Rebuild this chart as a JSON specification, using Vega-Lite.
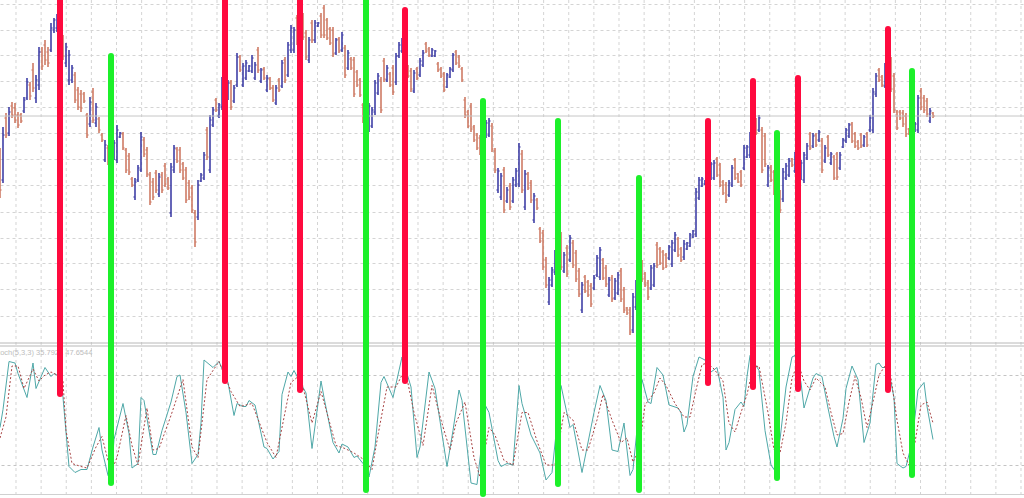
{
"$schema": "https://vega.github.io/schema/vega-lite/v6.json",
"width": 1024, "height": 498, "padding": 0, "autosize": {"type": "none"},
"background": "white",
"config": {"view": {"stroke": null}},
"datasets": {
"bars": [
{"t":0,"o":195,"h":202,"l":152,"c":160},{"t":1,"o":170,"h":223,"l":167,"c":215},{"t":2,"o":232,"h":237,"l":212,"c":215},{"t":3,"o":217,"h":243,"l":214,"c":238},{"t":4,"o":244,"h":248,"l":232,"c":235},{"t":5,"o":242,"h":247,"l":227,"c":230},{"t":6,"o":235,"h":238,"l":222,"c":225},{"t":7,"o":235,"h":237,"l":227,"c":229},{"t":8,"o":239,"h":253,"l":237,"c":250},{"t":9,"o":252,"h":272,"l":250,"c":268},
{"t":10,"o":265,"h":268,"l":250,"c":254},{"t":11,"o":280,"h":287,"l":258,"c":262},{"t":12,"o":252,"h":275,"l":247,"c":270},{"t":13,"o":265,"h":303,"l":260,"c":298},{"t":14,"o":298,"h":303,"l":280,"c":284},{"t":15,"o":305,"h":310,"l":285,"c":290},{"t":16,"o":298,"h":303,"l":283,"c":287},{"t":17,"o":300,"h":327,"l":298,"c":322},{"t":18,"o":320,"h":332,"l":317,"c":330},{"t":19,"o":322,"h":336,"l":318,"c":333},
{"t":20,"o":328,"h":330,"l":305,"c":308},{"t":21,"o":310,"h":315,"l":290,"c":294},{"t":22,"o":287,"h":307,"l":283,"c":303},{"t":23,"o":270,"h":300,"l":265,"c":295},{"t":24,"o":270,"h":285,"l":267,"c":282},{"t":25,"o":275,"h":278,"l":247,"c":250},{"t":26,"o":260,"h":263,"l":240,"c":243},{"t":27,"o":256,"h":260,"l":238,"c":242},{"t":28,"o":256,"h":258,"l":247,"c":249},{"t":29,"o":235,"h":237,"l":212,"c":215},
{"t":30,"o":226,"h":253,"l":223,"c":248},{"t":31,"o":258,"h":262,"l":227,"c":230},{"t":32,"o":227,"h":247,"l":223,"c":243},{"t":33,"o":231,"h":233,"l":217,"c":220},{"t":34,"o":215,"h":217,"l":208,"c":210},{"t":35,"o":190,"h":210,"l":188,"c":205},{"t":36,"o":202,"h":205,"l":185,"c":188},{"t":37,"o":198,"h":202,"l":182,"c":185},{"t":38,"o":192,"h":210,"l":190,"c":207},{"t":39,"o":190,"h":225,"l":187,"c":220},
{"t":40,"o":213,"h":218,"l":212,"c":217},{"t":41,"o":216,"h":218,"l":200,"c":202},{"t":42,"o":200,"h":202,"l":177,"c":180},{"t":43,"o":194,"h":197,"l":175,"c":178},{"t":44,"o":171,"h":173,"l":163,"c":165},{"t":45,"o":153,"h":172,"l":150,"c":168},{"t":46,"o":170,"h":185,"l":168,"c":182},{"t":47,"o":180,"h":218,"l":178,"c":213},{"t":48,"o":210,"h":213,"l":193,"c":196},{"t":49,"o":200,"h":203,"l":173,"c":176},
{"t":50,"o":175,"h":178,"l":145,"c":148},{"t":51,"o":168,"h":172,"l":150,"c":153},{"t":52,"o":177,"h":180,"l":157,"c":160},{"t":53,"o":156,"h":177,"l":153,"c":173},{"t":54,"o":175,"h":178,"l":157,"c":160},{"t":55,"o":184,"h":187,"l":163,"c":166},{"t":56,"o":171,"h":173,"l":160,"c":162},{"t":57,"o":137,"h":187,"l":133,"c":183},{"t":58,"o":180,"h":205,"l":177,"c":202},{"t":59,"o":201,"h":203,"l":187,"c":189},
{"t":60,"o":200,"h":203,"l":177,"c":180},{"t":61,"o":186,"h":188,"l":170,"c":172},{"t":62,"o":180,"h":183,"l":147,"c":150},{"t":63,"o":167,"h":170,"l":150,"c":153},{"t":64,"o":162,"h":165,"l":137,"c":140},{"t":65,"o":137,"h":140,"l":103,"c":108},{"t":66,"o":133,"h":170,"l":130,"c":165},{"t":67,"o":169,"h":177,"l":168,"c":175},{"t":68,"o":172,"h":198,"l":170,"c":195},{"t":69,"o":220,"h":223,"l":190,"c":193},
{"t":70,"o":180,"h":235,"l":177,"c":230},{"t":71,"o":225,"h":243,"l":223,"c":240},{"t":72,"o":250,"h":252,"l":238,"c":240},{"t":73,"o":234,"h":247,"l":232,"c":245},{"t":74,"o":243,"h":273,"l":240,"c":270},{"t":75,"o":272,"h":275,"l":250,"c":253},{"t":76,"o":252,"h":270,"l":250,"c":267},{"t":77,"o":267,"h":270,"l":240,"c":243},{"t":78,"o":249,"h":265,"l":247,"c":262},{"t":79,"o":265,"h":297,"l":263,"c":293},
{"t":80,"o":293,"h":295,"l":278,"c":280},{"t":81,"o":265,"h":287,"l":263,"c":284},{"t":82,"o":272,"h":290,"l":270,"c":287},{"t":83,"o":279,"h":285,"l":278,"c":284},{"t":84,"o":279,"h":295,"l":277,"c":292},{"t":85,"o":272,"h":288,"l":270,"c":285},{"t":86,"o":300,"h":303,"l":277,"c":280},{"t":87,"o":269,"h":282,"l":267,"c":280},{"t":88,"o":281,"h":283,"l":270,"c":272},{"t":89,"o":260,"h":275,"l":258,"c":272},
{"t":90,"o":271,"h":273,"l":260,"c":262},{"t":91,"o":262,"h":265,"l":248,"c":250},{"t":92,"o":247,"h":265,"l":245,"c":262},{"t":93,"o":270,"h":272,"l":258,"c":260},{"t":94,"o":264,"h":290,"l":262,"c":287},{"t":95,"o":290,"h":293,"l":267,"c":270},{"t":96,"o":275,"h":308,"l":273,"c":305},{"t":97,"o":300,"h":325,"l":297,"c":322},{"t":98,"o":300,"h":323,"l":297,"c":320},{"t":99,"o":332,"h":335,"l":305,"c":308},
{"t":100,"o":312,"h":335,"l":310,"c":332},{"t":101,"o":334,"h":337,"l":310,"c":313},{"t":102,"o":317,"h":320,"l":290,"c":293},{"t":103,"o":290,"h":313,"l":287,"c":310},{"t":104,"o":327,"h":330,"l":307,"c":310},{"t":105,"o":310,"h":330,"l":307,"c":327},{"t":106,"o":324,"h":328,"l":323,"c":327},{"t":107,"o":334,"h":337,"l":312,"c":315},{"t":108,"o":342,"h":345,"l":312,"c":315},{"t":109,"o":330,"h":332,"l":310,"c":312},
{"t":110,"o":321,"h":323,"l":305,"c":307},{"t":111,"o":320,"h":323,"l":293,"c":296},{"t":112,"o":297,"h":312,"l":295,"c":310},{"t":113,"o":311,"h":313,"l":297,"c":299},{"t":114,"o":300,"h":318,"l":298,"c":315},{"t":115,"o":302,"h":305,"l":272,"c":275},{"t":116,"o":282,"h":300,"l":280,"c":297},{"t":117,"o":291,"h":293,"l":280,"c":282},{"t":118,"o":290,"h":293,"l":253,"c":256},{"t":119,"o":278,"h":280,"l":263,"c":265},
{"t":120,"o":270,"h":272,"l":253,"c":255},{"t":121,"o":245,"h":247,"l":227,"c":229},{"t":122,"o":238,"h":240,"l":220,"c":222},{"t":123,"o":220,"h":247,"l":218,"c":244},{"t":124,"o":224,"h":243,"l":222,"c":240},{"t":125,"o":238,"h":270,"l":235,"c":267},{"t":126,"o":257,"h":277,"l":255,"c":274},{"t":127,"o":270,"h":273,"l":237,"c":240},{"t":128,"o":289,"h":292,"l":268,"c":271},{"t":129,"o":270,"h":285,"l":268,"c":282},
{"t":130,"o":276,"h":278,"l":263,"c":265},{"t":131,"o":282,"h":285,"l":255,"c":258},{"t":132,"o":268,"h":297,"l":265,"c":294},{"t":133,"o":294,"h":308,"l":292,"c":305},{"t":134,"o":299,"h":312,"l":297,"c":309},{"t":135,"o":317,"h":320,"l":290,"c":293},{"t":136,"o":283,"h":285,"l":272,"c":274},{"t":137,"o":279,"h":282,"l":258,"c":261},{"t":138,"o":259,"h":280,"l":257,"c":277},{"t":139,"o":281,"h":283,"l":270,"c":272},
{"t":140,"o":275,"h":292,"l":273,"c":289},{"t":141,"o":285,"h":300,"l":283,"c":297},{"t":142,"o":306,"h":308,"l":297,"c":299},{"t":143,"o":301,"h":303,"l":293,"c":295},{"t":144,"o":294,"h":302,"l":293,"c":300},{"t":145,"o":294,"h":300,"l":293,"c":299},{"t":146,"o":286,"h":288,"l":278,"c":280},{"t":147,"o":281,"h":283,"l":272,"c":274},{"t":148,"o":276,"h":278,"l":258,"c":260},{"t":149,"o":263,"h":277,"l":262,"c":275},
{"t":150,"o":273,"h":283,"l":272,"c":281},{"t":151,"o":280,"h":297,"l":278,"c":295},{"t":152,"o":298,"h":300,"l":285,"c":287},{"t":153,"o":293,"h":295,"l":282,"c":284},{"t":154,"o":281,"h":283,"l":268,"c":270},{"t":155,"o":250,"h":253,"l":232,"c":235},{"t":156,"o":238,"h":240,"l":222,"c":224},{"t":157,"o":244,"h":247,"l":218,"c":221},{"t":158,"o":223,"h":225,"l":208,"c":210},{"t":159,"o":215,"h":217,"l":200,"c":202},
{"t":160,"o":212,"h":215,"l":195,"c":198},{"t":161,"o":202,"h":220,"l":200,"c":217},{"t":162,"o":214,"h":230,"l":212,"c":227},{"t":163,"o":215,"h":232,"l":213,"c":229},{"t":164,"o":224,"h":227,"l":198,"c":201},{"t":165,"o":199,"h":202,"l":177,"c":180},{"t":166,"o":160,"h":182,"l":157,"c":179},{"t":167,"o":153,"h":177,"l":150,"c":174},{"t":168,"o":180,"h":183,"l":137,"c":140},{"t":169,"o":149,"h":163,"l":147,"c":160},
{"t":170,"o":164,"h":167,"l":140,"c":143},{"t":171,"o":149,"h":173,"l":147,"c":170},{"t":172,"o":165,"h":182,"l":163,"c":179},{"t":173,"o":166,"h":207,"l":163,"c":203},{"t":174,"o":196,"h":200,"l":157,"c":160},{"t":175,"o":143,"h":180,"l":140,"c":176},{"t":176,"o":176,"h":178,"l":160,"c":162},{"t":177,"o":167,"h":170,"l":147,"c":150},{"t":178,"o":130,"h":157,"l":127,"c":154},{"t":179,"o":150,"h":152,"l":140,"c":142},
{"t":180,"o":121,"h":123,"l":107,"c":109},{"t":181,"o":117,"h":120,"l":80,"c":83},{"t":182,"o":90,"h":93,"l":62,"c":65},{"t":183,"o":48,"h":73,"l":45,"c":70},{"t":184,"o":65,"h":83,"l":63,"c":80},{"t":185,"o":78,"h":100,"l":75,"c":97},{"t":186,"o":88,"h":110,"l":85,"c":107},{"t":187,"o":115,"h":118,"l":80,"c":83},{"t":188,"o":79,"h":98,"l":77,"c":95},{"t":189,"o":102,"h":105,"l":73,"c":76},
{"t":190,"o":90,"h":115,"l":88,"c":112},{"t":191,"o":107,"h":110,"l":82,"c":85},{"t":192,"o":97,"h":100,"l":68,"c":71},{"t":193,"o":79,"h":82,"l":53,"c":56},{"t":194,"o":40,"h":68,"l":37,"c":65},{"t":195,"o":73,"h":75,"l":57,"c":59},{"t":196,"o":68,"h":70,"l":53,"c":55},{"t":197,"o":64,"h":67,"l":43,"c":46},{"t":198,"o":62,"h":75,"l":60,"c":72},{"t":199,"o":75,"h":95,"l":73,"c":92},
{"t":200,"o":73,"h":103,"l":70,"c":100},{"t":201,"o":90,"h":92,"l":70,"c":72},{"t":202,"o":82,"h":85,"l":63,"c":66},{"t":203,"o":55,"h":73,"l":53,"c":70},{"t":204,"o":72,"h":75,"l":48,"c":51},{"t":205,"o":52,"h":72,"l":50,"c":69},{"t":206,"o":57,"h":78,"l":55,"c":75},{"t":207,"o":79,"h":82,"l":48,"c":51},{"t":208,"o":60,"h":63,"l":37,"c":40},{"t":209,"o":42,"h":43,"l":35,"c":37},
{"t":210,"o":40,"h":43,"l":15,"c":18},{"t":211,"o":20,"h":57,"l":17,"c":53},{"t":212,"o":43,"h":70,"l":40,"c":67},{"t":213,"o":63,"h":88,"l":60,"c":85},{"t":214,"o":87,"h":90,"l":68,"c":71},{"t":215,"o":76,"h":78,"l":63,"c":65},{"t":216,"o":67,"h":70,"l":50,"c":53},{"t":217,"o":62,"h":85,"l":60,"c":82},{"t":218,"o":65,"h":87,"l":63,"c":84},{"t":219,"o":105,"h":108,"l":82,"c":85},
{"t":220,"o":101,"h":103,"l":85,"c":87},{"t":221,"o":98,"h":100,"l":80,"c":82},{"t":222,"o":95,"h":97,"l":82,"c":84},{"t":223,"o":92,"h":105,"l":90,"c":103},{"t":224,"o":86,"h":110,"l":83,"c":107},{"t":225,"o":100,"h":118,"l":98,"c":115},{"t":226,"o":111,"h":113,"l":93,"c":95},{"t":227,"o":101,"h":103,"l":88,"c":90},{"t":228,"o":93,"h":110,"l":90,"c":106},{"t":229,"o":101,"h":108,"l":100,"c":107},
{"t":230,"o":104,"h":117,"l":103,"c":115},{"t":231,"o":113,"h":120,"l":112,"c":119},{"t":232,"o":116,"h":162,"l":113,"c":158},{"t":233,"o":152,"h":173,"l":150,"c":170},{"t":234,"o":164,"h":173,"l":163,"c":171},{"t":235,"o":166,"h":170,"l":165,"c":169},{"t":236,"o":167,"h":185,"l":165,"c":182},{"t":237,"o":172,"h":188,"l":170,"c":186},{"t":238,"o":172,"h":190,"l":170,"c":187},{"t":239,"o":191,"h":193,"l":173,"c":175},
{"t":240,"o":185,"h":187,"l":163,"c":165},{"t":241,"o":168,"h":170,"l":155,"c":157},{"t":242,"o":165,"h":168,"l":147,"c":150},{"t":243,"o":155,"h":170,"l":153,"c":167},{"t":244,"o":165,"h":185,"l":163,"c":182},{"t":245,"o":190,"h":192,"l":170,"c":172},{"t":246,"o":176,"h":177,"l":167,"c":168},{"t":247,"o":178,"h":180,"l":163,"c":165},{"t":248,"o":182,"h":205,"l":180,"c":202},{"t":249,"o":193,"h":205,"l":192,"c":203},
{"t":250,"o":195,"h":218,"l":192,"c":215},{"t":251,"o":212,"h":230,"l":210,"c":227},{"t":252,"o":230,"h":232,"l":215,"c":217},{"t":253,"o":220,"h":235,"l":218,"c":232},{"t":254,"o":220,"h":223,"l":177,"c":180},{"t":255,"o":214,"h":217,"l":183,"c":186},{"t":256,"o":165,"h":185,"l":163,"c":182},{"t":257,"o":183,"h":185,"l":168,"c":170},{"t":258,"o":178,"h":180,"l":155,"c":158},{"t":259,"o":162,"h":165,"l":140,"c":143},
{"t":260,"o":157,"h":160,"l":137,"c":140},{"t":261,"o":151,"h":182,"l":148,"c":178},{"t":262,"o":172,"h":187,"l":170,"c":184},{"t":263,"o":175,"h":192,"l":173,"c":189},{"t":264,"o":191,"h":192,"l":183,"c":185},{"t":265,"o":179,"h":198,"l":177,"c":195},{"t":266,"o":193,"h":195,"l":175,"c":177},{"t":267,"o":172,"h":190,"l":170,"c":187},{"t":268,"o":170,"h":198,"l":167,"c":195},{"t":269,"o":192,"h":207,"l":190,"c":204},
{"t":270,"o":216,"h":218,"l":200,"c":202},{"t":271,"o":204,"h":217,"l":202,"c":214},{"t":272,"o":215,"h":217,"l":203,"c":205},{"t":273,"o":210,"h":220,"l":208,"c":218},{"t":274,"o":209,"h":212,"l":177,"c":180},{"t":275,"o":189,"h":205,"l":187,"c":202},{"t":276,"o":213,"h":215,"l":193,"c":195},{"t":277,"o":187,"h":198,"l":185,"c":196},{"t":278,"o":193,"h":195,"l":170,"c":172},{"t":279,"o":196,"h":198,"l":170,"c":173},
{"t":280,"o":182,"h":198,"l":180,"c":195},{"t":281,"o":203,"h":212,"l":202,"c":210},{"t":282,"o":209,"h":222,"l":207,"c":220},{"t":283,"o":214,"h":227,"l":212,"c":225},{"t":284,"o":226,"h":228,"l":207,"c":209},{"t":285,"o":216,"h":218,"l":202,"c":204},{"t":286,"o":208,"h":210,"l":200,"c":202},{"t":287,"o":215,"h":217,"l":202,"c":204},{"t":288,"o":205,"h":215,"l":203,"c":213},{"t":289,"o":216,"h":218,"l":203,"c":205},
{"t":290,"o":220,"h":235,"l":218,"c":232},{"t":291,"o":220,"h":262,"l":217,"c":258},{"t":292,"o":256,"h":277,"l":253,"c":274},{"t":293,"o":280,"h":282,"l":268,"c":270},{"t":294,"o":273,"h":275,"l":263,"c":265},{"t":295,"o":264,"h":287,"l":262,"c":284},{"t":296,"o":277,"h":295,"l":275,"c":292},{"t":297,"o":290,"h":293,"l":258,"c":261},{"t":298,"o":274,"h":277,"l":237,"c":240},{"t":299,"o":238,"h":240,"l":220,"c":222},
{"t":300,"o":238,"h":240,"l":230,"c":232},{"t":301,"o":237,"h":240,"l":223,"c":226},{"t":302,"o":234,"h":237,"l":213,"c":216},{"t":303,"o":221,"h":222,"l":215,"c":216},{"t":304,"o":212,"h":225,"l":210,"c":222},{"t":305,"o":219,"h":228,"l":218,"c":226},{"t":306,"o":220,"h":255,"l":217,"c":252},{"t":307,"o":259,"h":262,"l":240,"c":243},{"t":308,"o":252,"h":255,"l":237,"c":240},{"t":309,"o":249,"h":252,"l":233,"c":236},
{"t":310,"o":229,"h":242,"l":227,"c":239},{"t":311,"o":237,"h":238,"l":232,"c":234}
],
"kline": [
{"t":0,"k":45},{"t":1,"k":57},{"t":3,"k":89},{"t":5,"k":88},{"t":6,"k":81},{"t":9,"k":65},{"t":11,"k":88},{"t":12,"k":71},{"t":15,"k":85},{"t":17,"k":79},{"t":18,"k":81},{"t":20,"k":79},{"t":21,"k":65},{"t":23,"k":19},{"t":25,"k":15},{"t":27,"k":17},{"t":29,"k":17},{"t":31,"k":32},{"t":33,"k":45},{"t":34,"k":30},{"t":36,"k":13},{"t":37,"k":11},{"t":38,"k":37},{"t":41,"k":61},{"t":43,"k":41},{"t":44,"k":18},{"t":46,"k":21},{"t":47,"k":65},{"t":48,"k":63},{"t":51,"k":27},{"t":52,"k":27},{"t":54,"k":43},{"t":57,"k":62},{"t":59,"k":79},{"t":60,"k":80},{"t":62,"k":55},{"t":64,"k":21},{"t":66,"k":27},{"t":67,"k":48},{"t":68,"k":90},{"t":71,"k":85},{"t":73,"k":89},{"t":76,"k":75},{"t":78,"k":53},{"t":79,"k":61},{"t":81,"k":59},{"t":82,"k":59},{"t":83,"k":63},{"t":85,"k":60},{"t":88,"k":32},{"t":89,"k":31},{"t":91,"k":24},{"t":93,"k":29},{"t":94,"k":67},{"t":96,"k":82},{"t":97,"k":79},{"t":98,"k":83},{"t":102,"k":68},{"t":104,"k":31},{"t":107,"k":76},{"t":108,"k":65},{"t":111,"k":35},{"t":113,"k":28},{"t":114,"k":34},{"t":116,"k":32},{"t":118,"k":25},{"t":119,"k":26},{"t":121,"k":21},{"t":123,"k":12},{"t":125,"k":32},{"t":127,"k":75},{"t":128,"k":79},{"t":131,"k":65},{"t":134,"k":92},{"t":137,"k":72},{"t":139,"k":25},{"t":140,"k":32},{"t":143,"k":82},{"t":145,"k":71},{"t":149,"k":19},{"t":151,"k":43},{"t":153,"k":70},{"t":154,"k":63},{"t":157,"k":8},{"t":159,"k":7},{"t":162,"k":59},{"t":163,"k":55},{"t":166,"k":23},{"t":167,"k":19},{"t":169,"k":21},{"t":171,"k":20},{"t":173,"k":73},{"t":174,"k":61},{"t":177,"k":40},{"t":180,"k":28},{"t":182,"k":10},{"t":184,"k":15},{"t":187,"k":73},{"t":190,"k":45},{"t":191,"k":47},{"t":194,"k":15},{"t":198,"k":55},{"t":200,"k":73},{"t":202,"k":63},{"t":204,"k":30},{"t":206,"k":29},{"t":208,"k":48},{"t":209,"k":30},{"t":210,"k":13},{"t":211,"k":17},{"t":214,"k":77},{"t":216,"k":62},{"t":217,"k":61},{"t":219,"k":85},{"t":221,"k":80},{"t":223,"k":60},{"t":226,"k":58},{"t":227,"k":55},{"t":228,"k":42},{"t":229,"k":47},{"t":231,"k":79},{"t":233,"k":92},{"t":235,"k":90},{"t":237,"k":82},{"t":239,"k":85},{"t":241,"k":65},{"t":242,"k":30},{"t":243,"k":35},{"t":245,"k":57},{"t":247,"k":62},{"t":248,"k":59},{"t":249,"k":79},{"t":250,"k":93},{"t":253,"k":83},{"t":255,"k":43},{"t":257,"k":20},{"t":258,"k":17},{"t":260,"k":37},{"t":262,"k":72},{"t":264,"k":92},{"t":265,"k":93},{"t":267,"k":75},{"t":268,"k":58},{"t":271,"k":78},{"t":272,"k":81},{"t":274,"k":79},{"t":276,"k":58},{"t":278,"k":39},{"t":279,"k":32},{"t":281,"k":51},{"t":282,"k":71},{"t":284,"k":86},{"t":286,"k":77},{"t":288,"k":35},{"t":290,"k":48},{"t":292,"k":87},{"t":293,"k":88},{"t":294,"k":85},{"t":296,"k":85},{"t":298,"k":65},{"t":299,"k":21},{"t":301,"k":18},{"t":302,"k":19},{"t":304,"k":35},{"t":306,"k":70},{"t":308,"k":75},{"t":309,"k":59},{"t":311,"k":37}
],
"dline": [
{"t":0,"d":38},{"t":2,"d":52},{"t":4,"d":86},{"t":6,"d":86},{"t":8,"d":71},{"t":11,"d":84},{"t":13,"d":76},{"t":15,"d":80},{"t":17,"d":82},{"t":19,"d":80},{"t":21,"d":76},{"t":22,"d":43},{"t":24,"d":21},{"t":27,"d":19},{"t":29,"d":18},{"t":32,"d":32},{"t":34,"d":39},{"t":37,"d":15},{"t":39,"d":25},{"t":42,"d":53},{"t":44,"d":33},{"t":46,"d":20},{"t":49,"d":58},{"t":51,"d":30},{"t":53,"d":31},{"t":57,"d":53},{"t":61,"d":77},{"t":64,"d":32},{"t":66,"d":25},{"t":69,"d":77},{"t":73,"d":89},{"t":77,"d":69},{"t":80,"d":59},{"t":84,"d":61},{"t":89,"d":35},{"t":92,"d":25},{"t":97,"d":75},{"t":100,"d":80},{"t":104,"d":48},{"t":107,"d":69},{"t":112,"d":33},{"t":115,"d":31},{"t":118,"d":28},{"t":121,"d":24},{"t":124,"d":17},{"t":126,"d":40},{"t":129,"d":72},{"t":132,"d":72},{"t":135,"d":84},{"t":138,"d":55},{"t":141,"d":33},{"t":144,"d":73},{"t":147,"d":50},{"t":150,"d":30},{"t":152,"d":48},{"t":155,"d":62},{"t":158,"d":25},{"t":160,"d":12},{"t":163,"d":45},{"t":165,"d":40},{"t":168,"d":23},{"t":171,"d":20},{"t":174,"d":55},{"t":176,"d":55},{"t":179,"d":36},{"t":182,"d":20},{"t":185,"d":20},{"t":188,"d":55},{"t":191,"d":50},{"t":194,"d":30},{"t":196,"d":30},{"t":199,"d":50},{"t":201,"d":67},{"t":204,"d":50},{"t":207,"d":35},{"t":209,"d":38},{"t":211,"d":22},{"t":213,"d":30},{"t":215,"d":60},{"t":218,"d":68},{"t":220,"d":78},{"t":222,"d":73},{"t":225,"d":61},{"t":228,"d":52},{"t":230,"d":52},{"t":232,"d":70},{"t":234,"d":87},{"t":236,"d":88},{"t":238,"d":84},{"t":241,"d":76},{"t":243,"d":48},{"t":245,"d":42},{"t":247,"d":55},{"t":249,"d":67},{"t":251,"d":85},{"t":253,"d":86},{"t":256,"d":55},{"t":258,"d":30},{"t":260,"d":28},{"t":262,"d":48},{"t":264,"d":78},{"t":266,"d":88},{"t":268,"d":76},{"t":270,"d":70},{"t":272,"d":78},{"t":275,"d":72},{"t":277,"d":55},{"t":279,"d":40},{"t":281,"d":41},{"t":283,"d":62},{"t":285,"d":79},{"t":287,"d":65},{"t":289,"d":45},{"t":291,"d":62},{"t":293,"d":80},{"t":295,"d":86},{"t":297,"d":78},{"t":299,"d":50},{"t":301,"d":28},{"t":303,"d":20},{"t":305,"d":35},{"t":307,"d":60},{"t":309,"d":62},{"t":311,"d":48}
],
"signals": [
{"t":20,"type":"sell","top":358,"bottom":-44},{"t":37,"type":"buy","top":294,"bottom":-133},{"t":75,"type":"sell","top":358,"bottom":-31},{"t":100,"type":"sell","top":358,"bottom":-40},{"t":122,"type":"buy","top":358,"bottom":-140},{"t":135,"type":"sell","top":340,"bottom":-31},{"t":161,"type":"buy","top":249,"bottom":-144},{"t":186,"type":"buy","top":229,"bottom":-134},{"t":213,"type":"buy","top":172,"bottom":-140},{"t":236,"type":"sell","top":229,"bottom":-33},{"t":251,"type":"sell","top":269,"bottom":-37},{"t":259,"type":"buy","top":217,"bottom":-128},{"t":266,"type":"sell","top":272,"bottom":-39},{"t":296,"type":"sell","top":321,"bottom":-40},{"t":304,"type":"buy","top":279,"bottom":-125}
],
"timegrid": [
{"g":5.33},{"g":13.71},{"g":22.08},{"g":30.46},{"g":38.83},{"g":47.21},{"g":55.58},{"g":63.96},{"g":72.33},{"g":80.71},{"g":89.08},{"g":97.46},{"g":105.83},{"g":114.21},{"g":122.58},{"g":130.96},{"g":139.33},{"g":147.71},{"g":156.08},{"g":164.46},{"g":172.83},{"g":181.21},{"g":189.58},{"g":197.96},{"g":206.33},{"g":214.71},{"g":223.08},{"g":231.46},{"g":239.83},{"g":248.21},{"g":256.58},{"g":264.96},{"g":273.33},{"g":281.71},{"g":290.08},{"g":298.46},{"g":306.83},{"g":315.21},{"g":323.58},{"g":331.96},{"g":340.33}
]
},
"layer": [
{
"data": {"name": "timegrid"},
"mark": {"type": "rule", "color": "#d4d4d4", "strokeWidth": 1, "strokeDash": [3, 3]},
"encoding": {
"x": {"field": "g", "type": "quantitative", "scale": {"domain": [0, 341.333], "nice": false, "zero": false}, "axis": null}
}
},
{
"data": {"name": "bars"},
"mark": {"type": "rule", "strokeWidth": 1.4},
"encoding": {
"x": {"field": "t", "type": "quantitative", "axis": null},
"y": {"field": "l", "type": "quantitative", "scale": {"domain": [-148, 350], "nice": false, "zero": false},
"axis": {"values": [346,320,295,269,243,217,191,165,138,112,87,61,34], "grid": true, "gridDash": [3, 3], "gridColor": "#d4d4d4", "labels": false, "ticks": false, "domain": false, "title": null}},
"y2": {"field": "h"},
"color": {"condition": {"test": "datum.c >= datum.o", "value": "#24249a"}, "value": "#c8684f"}
}
},
{
"data": {"values": [{"name": "bid", "price": 234}]},
"mark": {"type": "rule", "color": "#c6c6c6", "strokeWidth": 1},
"encoding": {
"x": {"datum": 0, "type": "quantitative", "axis": null},
"x2": {"datum": 341.333},
"y": {"field": "price", "type": "quantitative", "scale": {"domain": [-148, 350], "nice": false, "zero": false}, "axis": null}
}
},
{
"data": {"values": [{}]},
"mark": {"type": "rule", "color": "#b8b8b8", "strokeWidth": 1},
"encoding": {
"x": {"datum": 0, "type": "quantitative", "axis": null},
"x2": {"datum": 341.333},
"y": {"datum": 7, "type": "quantitative", "scale": {"domain": [-148, 350], "nice": false, "zero": false}, "axis": null}
}
},
{
"data": {"values": [{}]},
"mark": {"type": "rule", "color": "#b8b8b8", "strokeWidth": 1},
"encoding": {
"x": {"datum": 0, "type": "quantitative", "axis": null},
"x2": {"datum": 341.333},
"y": {"datum": 4, "type": "quantitative", "scale": {"domain": [-148, 350], "nice": false, "zero": false}, "axis": null}
}
},
{
"data": {"values": [{}]},
"mark": {"type": "rule", "color": "#d0d0d0", "strokeWidth": 1},
"encoding": {
"x": {"datum": 0, "type": "quantitative", "axis": null},
"x2": {"datum": 341.333},
"y": {"datum": -144.5, "type": "quantitative", "scale": {"domain": [-148, 350], "nice": false, "zero": false}, "axis": null}
}
},
{
"data": {"name": "bars"},
"mark": {"type": "tick", "orient": "horizontal", "size": 1.6, "thickness": 1, "xOffset": -1},
"encoding": {
"x": {"field": "t", "type": "quantitative", "axis": null},
"y": {"field": "o", "type": "quantitative", "scale": {"domain": [-148, 350], "nice": false, "zero": false}, "axis": null},
"color": {"condition": {"test": "datum.c >= datum.o", "value": "#24249a"}, "value": "#c8684f"}
}
},
{
"data": {"name": "bars"},
"mark": {"type": "tick", "orient": "horizontal", "size": 1.6, "thickness": 1, "xOffset": 1},
"encoding": {
"x": {"field": "t", "type": "quantitative", "axis": null},
"y": {"field": "c", "type": "quantitative", "scale": {"domain": [-148, 350], "nice": false, "zero": false}, "axis": null},
"color": {"condition": {"test": "datum.c >= datum.o", "value": "#24249a"}, "value": "#c8684f"}
}
},
{
"data": {"name": "kline"},
"mark": {"type": "line", "color": "#4fa8a8", "strokeWidth": 1},
"encoding": {
"x": {"field": "t", "type": "quantitative", "axis": null},
"y": {"field": "k", "type": "quantitative", "scale": {"domain": [-2, 330], "nice": false, "zero": false},
"axis": {"values": [20, 80], "grid": true, "gridDash": [3, 3], "gridColor": "#c4c4c4", "labels": false, "ticks": false, "domain": false, "title": null}}
}
},
{
"data": {"name": "dline"},
"mark": {"type": "line", "color": "#a84444", "strokeWidth": 1, "strokeDash": [2, 2]},
"encoding": {
"x": {"field": "t", "type": "quantitative", "axis": null},
"y": {"field": "d", "type": "quantitative", "scale": {"domain": [-2, 330], "nice": false, "zero": false}, "axis": null}
}
},
{
"data": {"values": [{"label": "Stoch(5,3,3) 35.7921 47.6544"}]},
"mark": {"type": "text", "align": "left", "baseline": "middle", "font": "Liberation Sans", "fontSize": 7.5, "color": "#bdbdbd"},
"encoding": {
"x": {"datum": -2.3, "type": "quantitative", "axis": null},
"y": {"datum": 95, "type": "quantitative", "scale": {"domain": [-2, 330], "nice": false, "zero": false}, "axis": null},
"text": {"field": "label"}
}
},
{
"data": {"name": "signals"},
"mark": {"type": "rule", "strokeWidth": 6, "strokeCap": "round"},
"encoding": {
"x": {"field": "t", "type": "quantitative", "axis": null},
"y": {"field": "top", "type": "quantitative", "scale": {"domain": [-148, 350], "nice": false, "zero": false}, "axis": null},
"y2": {"field": "bottom"},
"color": {"field": "type", "type": "nominal", "scale": {"domain": ["sell", "buy"], "range": ["#ff0a3e", "#1cf02a"]}, "legend": null}
}
}
],
"resolve": {"scale": {"y": "independent"}}
}
